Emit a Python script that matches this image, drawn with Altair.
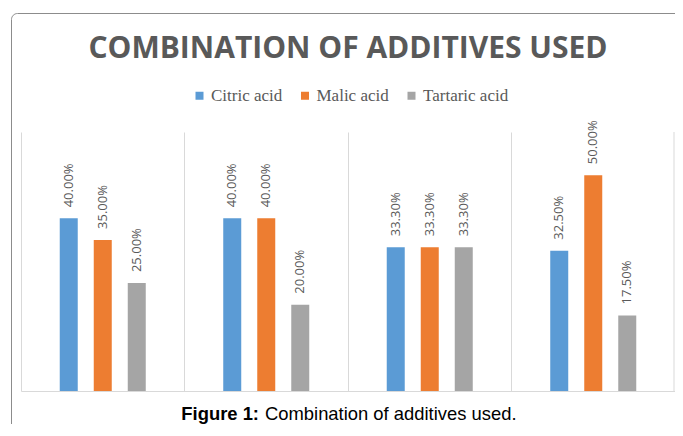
import altair as alt
import pandas as pd

groups = ["1", "2", "3", "4"]
series = ["Citric acid", "Malic acid", "Tartaric acid"]
citric = [0.40, 0.40, 0.333, 0.325]
malic = [0.35, 0.40, 0.333, 0.50]
tartaric = [0.25, 0.20, 0.333, 0.175]
colors = ["#5B9BD5", "#ED7D31", "#A5A5A5"]

rows = []
for i, g in enumerate(groups):
    for s, vals in zip(series, [citric, malic, tartaric]):
        rows.append({"group": g, "series": s, "value": vals[i]})
df = pd.DataFrame(rows)
one = pd.DataFrame({"k": [0]})

W = 654
H = 259

x = alt.X("group:N", sort=groups,
          scale=alt.Scale(paddingInner=0, paddingOuter=0),
          axis=alt.Axis(title=None, labels=False, ticks=False, domain=True,
                        domainColor="#D9D9D9", grid=True, gridColor="#D9D9D9",
                        bandPosition=0))
xo = alt.XOffset("series:N", sort=series,
                 scale=alt.Scale(paddingInner=0, paddingOuter=0.904))
y = alt.Y("value:Q", scale=alt.Scale(domain=[0, 0.6]), axis=None)

base = alt.Chart(df)

bars = base.mark_bar(size=18).encode(
    x=x, xOffset=xo, y=y,
    color=alt.Color("series:N", sort=series,
                    scale=alt.Scale(domain=series, range=colors),
                    legend=alt.Legend(title=None, orient="none", legendX=170, legendY=-45,
                                      direction="horizontal", symbolType="square",
                                      symbolSize=64, symbolStrokeWidth=0,
                                      labelFont="Liberation Serif", labelFontSize=17,
                                      labelColor="#595959", columnPadding=13.5,
                                      labelOffset=3)),
)

labels = base.mark_text(angle=270, align="left", baseline="middle", dx=11,
                        font="Open Sans", fontSize=13, color="#595959").encode(
    x=x, xOffset=xo, y=y, text=alt.Text("value:Q", format=".2%"))

right_rule = alt.Chart(one).mark_rule(color="#D9D9D9").encode(
    x=alt.value(W - 1), y=alt.value(0), y2=alt.value(H))

border = alt.Chart(one).mark_rect(fillOpacity=0, stroke="#8C8C8C", strokeWidth=1,
                                  cornerRadius=6).encode(
    x=alt.value(-9.5), x2=alt.value(W + 40), y=alt.value(-118.5), y2=alt.value(H + 80))

title = alt.Chart(one).mark_text(align="center", baseline="alphabetic", font="Open Sans",
                                 fontSize=30, fontWeight="bold", color="#595959").encode(
    x=alt.value(W / 2), y=alt.value(-74), text=alt.value("COMBINATION OF ADDITIVES USED"))

cap1 = alt.Chart(one).mark_text(align="right", baseline="alphabetic", font="Liberation Sans",
                                fontSize=18.4, fontWeight="bold", color="#000000").encode(
    x=alt.value(238), y=alt.value(288), text=alt.value("Figure 1:"))
cap2 = alt.Chart(one).mark_text(align="left", baseline="alphabetic", font="Liberation Sans",
                                fontSize=18.4, color="#000000").encode(
    x=alt.value(244), y=alt.value(288), text=alt.value("Combination of additives used."))

chart = alt.layer(border, right_rule, bars, labels, title, cap1, cap2).properties(
    width=W, height=H,
    padding={"left": 13, "top": 124, "right": 0, "bottom": 33},
    autosize="none",
).configure_view(stroke=None)

chart.save("out.html", embed_options={"renderer": "svg", "actions": False})
